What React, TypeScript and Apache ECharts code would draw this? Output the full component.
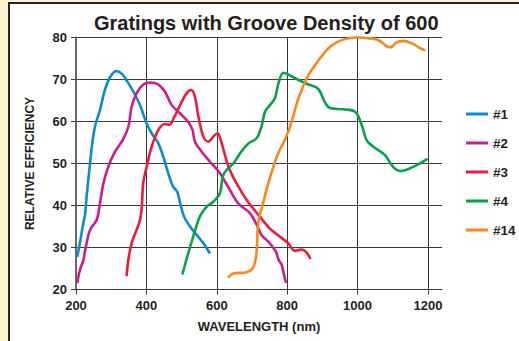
import React, { useEffect, useRef } from "react";
import * as echarts from "echarts";

const TITLE = "Gratings with Groove Density of 600";
const X_NAME = "WAVELENGTH (nm)";
const Y_NAME = "RELATIVE EFFICIENCY";
const SERIES_NAMES = ["#1", "#2", "#3", "#4", "#14"];
const SERIES_COLORS = ["#0b8bd0", "#cc1d8e", "#ec1c3a", "#0aa04b", "#f7871f"];

const s1: number[][] = [[204,28],[211,31],[220,35.5],[226,38],[230,42],[238,48.5],[245,54],[254,58.8],[268,62.7],[282,67.5],[297,70.6],[314,72],[330,71.4],[346,69.5],[363,67.1],[382,63.9],[399,59.9],[415,57.2],[434,54.8],[448,51.6],[462,47.7],[476,44.5],[488,43.2],[496,40.5],[507,37.4],[524,35],[543,33],[562,31],[579,28.8]];
const s2: number[][] = [[204,21.8],[211,24.6],[221,27],[226,29.4],[240,34.2],[259,36.6],[268,40.5],[278,45.3],[292,49.3],[311,52.8],[333,55.6],[349,58.8],[358,63.5],[372,66.7],[391,68.8],[412,69.3],[434,68.8],[453,67.1],[472,63.9],[496,61.9],[519,59.9],[531,58],[538,55.2],[557,52.8],[581,50.4],[609,47.7],[635,44],[661,40.5],[694,38.2],[713,35.5],[727,33],[751,31],[768,29],[776,27],[784,26],[791,23.5],[796,21.8]];
const s3: number[][] = [[344,23.4],[349,27.2],[358,31],[372,34.2],[382,36.6],[387,39.7],[391,45.3],[401,49.3],[415,54],[434,58],[453,59.4],[465,59.2],[477,60.7],[496,63.9],[514,66.7],[528,67.5],[538,65.9],[548,61.1],[562,56.4],[576,55.2],[590,56.4],[602,57.2],[614,54.8],[633,49.3],[656,45.3],[685,41.3],[722,37.4],[751,34.5],[770,33.2],[803,31],[822,29.2],[841,29.5],[853,29],[865,27.5]];
const s4: number[][] = [[503,23.8],[514,27.2],[533,32.6],[552,37.4],[571,39.7],[590,40.9],[609,42.9],[617,46.9],[628,48.5],[647,50],[666,52.4],[690,54.8],[713,56],[727,58.8],[737,62.3],[751,63.9],[765,65.5],[775,69],[789,71.6],[803,71.2],[830,70],[855,69],[888,67.8],[907,64.6],[922,63.2],[959,62.9],[993,62.3],[1012,59.1],[1026,55.5],[1045,54],[1078,52],[1101,49.2],[1122,48.2],[1158,49.2],[1196,51]];
const s14: number[][] = [[634,23],[647,23.8],[685,24.1],[702,25],[710,27],[714,30],[716,34],[720,37],[730,40],[742,44],[760,49],[775,52.5],[790,55],[805,58],[818,61.5],[830,65],[845,68.3],[860,71],[884,74],[905,76.3],[925,78],[950,79.2],[975,79.8],[1000,80],[1035,79.8],[1055,79.5],[1070,78.8],[1085,77.8],[1095,77.7],[1110,78.8],[1130,79.2],[1155,78.6],[1175,77.6],[1190,77]];
const SERIES_DATA = [s1, s2, s3, s4, s14];

const X_MIN = 200;
const X_MAX = 1240;
const X_STEP = 200;
const Y_MIN = 20;
const Y_MAX = 80;
const Y_STEP = 10;

const FONT = "'Liberation Sans', Arial, Helvetica, sans-serif";
const TXT = "#231f20";
const GRID_C = "#3a3a3a";

export default function App() {
  const ref = useRef<HTMLDivElement>(null);
  useEffect(() => {
    if (!ref.current) return;
    const chart = echarts.init(ref.current, undefined, { renderer: "svg" });
    chart.setOption({
      animation: false,
      backgroundColor: "transparent",
      title: {
        text: TITLE,
        left: 89,
        top: 8,
        textStyle: { fontFamily: FONT, fontWeight: "bold", fontSize: 20, color: TXT },
      },
      legend: {
        orient: "vertical",
        left: 461,
        top: 101,
        icon: "rect",
        itemWidth: 22,
        itemHeight: 3,
        itemGap: 13,
        data: SERIES_NAMES,
        textStyle: { fontFamily: FONT, fontWeight: "bold", fontSize: 13.5, color: TXT, lineHeight: 16 },
      },
      grid: { left: 76, top: 37.5, width: 366, height: 252, containLabel: false },
      xAxis: {
        type: "value",
        min: X_MIN,
        max: X_MAX,
        interval: X_STEP,
        name: X_NAME,
        nameLocation: "middle",
        nameGap: 30,
        nameTextStyle: { fontFamily: FONT, fontWeight: "bold", fontSize: 13, color: TXT, verticalAlign: "top" },
        axisLine: { show: true, onZero: false, lineStyle: { color: GRID_C, width: 1 } },
        axisTick: { show: true, length: 5, lineStyle: { color: GRID_C } },
        axisLabel: {
          margin: 9,
          showMaxLabel: false,
          formatter: (v: number) => String(v),
          fontFamily: FONT,
          fontWeight: "bold",
          fontSize: 13,
          color: TXT,
        },
        splitLine: { show: true, showMaxLine: false, lineStyle: { color: GRID_C, width: 1 } },
      },
      yAxis: {
        type: "value",
        min: Y_MIN,
        max: Y_MAX,
        interval: Y_STEP,
        name: Y_NAME,
        nameLocation: "middle",
        nameGap: 40,
        nameTextStyle: { fontFamily: FONT, fontWeight: "bold", fontSize: 12, color: TXT },
        axisLine: { show: true, lineStyle: { color: "#6a6a6a", width: 2 } },
        axisTick: { show: true, length: 5, lineStyle: { color: GRID_C } },
        axisLabel: { margin: 9, fontFamily: FONT, fontWeight: "bold", fontSize: 13, color: TXT },
        splitLine: { show: true, lineStyle: { color: GRID_C, width: 1 } },
      },
      series: SERIES_NAMES.map((name, i) => ({
        name,
        type: "line",
        data: SERIES_DATA[i],
        showSymbol: false,
        symbol: "none",
        smooth: 0.35,
        clip: false,
        color: SERIES_COLORS[i],
        lineStyle: { color: SERIES_COLORS[i], width: 2.6, cap: "round", join: "round" },
      })),
    });
    return () => chart.dispose();
  }, []);

  return (
    <div style={{ position: "fixed", left: 0, top: 0, width: 519, height: 341, background: "#fdf1d1", overflow: "hidden" }}>
      <div
        style={{
          position: "absolute",
          left: 8,
          top: 2,
          width: 519,
          height: 341,
          background: "#ffffff",
          borderLeft: "2.5px solid #2a2522",
          borderTop: "2px solid #2a2522",
        }}
      />
      <div ref={ref} style={{ position: "absolute", left: 0, top: 0, width: 519, height: 341 }} />
    </div>
  );
}
